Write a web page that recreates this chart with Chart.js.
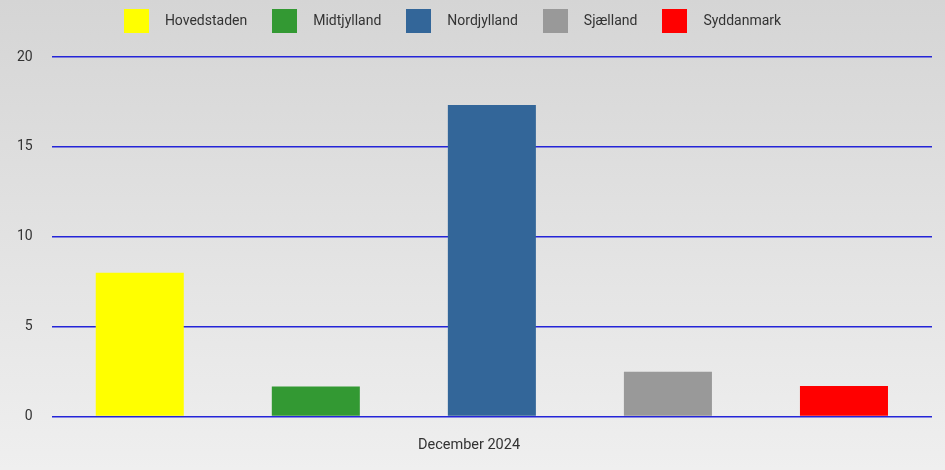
<!DOCTYPE html>
<html>
<head>
<meta charset="utf-8">
<script src="https://cdn.jsdelivr.net/npm/chart.js@4.4.1/dist/chart.umd.min.js"></script>
<style>
  html, body { margin: 0; padding: 0; }
  body { width: 945px; height: 470px; background: linear-gradient(to bottom, #d5d5d5 0%, #efefef 100%); }
  #wrap { position: relative; width: 945px; height: 470px; }
</style>
</head>
<body>
<div id="wrap"><canvas id="chart"></canvas></div>
<script>
const periods = ['December 2024'];
const regions = ['Hovedstaden', 'Midtjylland', 'Nordjylland', 'Sjælland', 'Syddanmark'];
const regionValues = [8, 1.67, 17.33, 2.5, 1.7];
const regionColors = ['#ffff00', '#339933', '#336699', '#999999', '#ff0000'];
const yTicks = [0, 5, 10, 15, 20];

Chart.defaults.font.family = 'Roboto';
Chart.defaults.color = '#333333';

// square swatch used as legend marker (bigger than the font allows for plain boxes)
function makeSwatch(color) {
  const c = document.createElement('canvas');
  c.width = 25;
  c.height = 24;
  const g = c.getContext('2d');
  g.fillStyle = color;
  g.fillRect(0, 0, 25, 24);
  return c;
}

// extra room between legend and plot, and nudge legend / title like the original
const legendSpacer = {
  id: 'legendSpacer',
  beforeInit(chart) {
    const fit = chart.legend.fit;
    chart.legend.fit = function () {
      fit.bind(chart.legend)();
      this.height += 19;
    };
  },
  afterLayout(chart) {
    chart.legend.right -= 34;
    chart.titleBlock.left += 8;
  },
};

const datasets = regions.map((name, i) => ({
  label: name,
  data: [regionValues[i]],
  backgroundColor: regionColors[i],
  borderWidth: 0,
  pointStyle: makeSwatch(regionColors[i]),
  barPercentage: 0.5,
  categoryPercentage: 1.0,
}));

new Chart(document.getElementById('chart').getContext('2d'), {
  type: 'bar',
  data: {
    labels: periods,
    datasets: datasets,
  },
  plugins: [legendSpacer],
  options: {
    responsive: true,
    maintainAspectRatio: false,
    animation: false,
    layout: {
      padding: { left: -2, right: 13, top: -2, bottom: 6 },
    },
    plugins: {
      legend: {
        position: 'top',
        labels: {
          usePointStyle: true,
          pointStyleWidth: 43,
          padding: 16,
          font: { size: 14 },
          color: '#333333',
        },
      },
      title: {
        display: true,
        position: 'bottom',
        text: periods[0],
        font: { size: 14.5, weight: 'normal' },
        color: '#333333',
        padding: { top: 12, bottom: 10 },
      },
      tooltip: {
        enabled: true,
      },
    },
    scales: {
      x: {
        ticks: { display: false },
        grid: { display: false },
        border: { display: false },
      },
      y: {
        min: yTicks[0],
        max: yTicks[yTicks.length - 1],
        afterBuildTicks: (axis) => {
          axis.ticks = yTicks.map((v) => ({ value: v }));
        },
        ticks: {
          padding: 19,
          font: { size: 14 },
          color: '#333333',
        },
        grid: {
          color: '#2424d8',
          lineWidth: 1.5,
          drawTicks: false,
        },
        border: { display: false },
      },
    },
  },
});
</script>
</body>
</html>
